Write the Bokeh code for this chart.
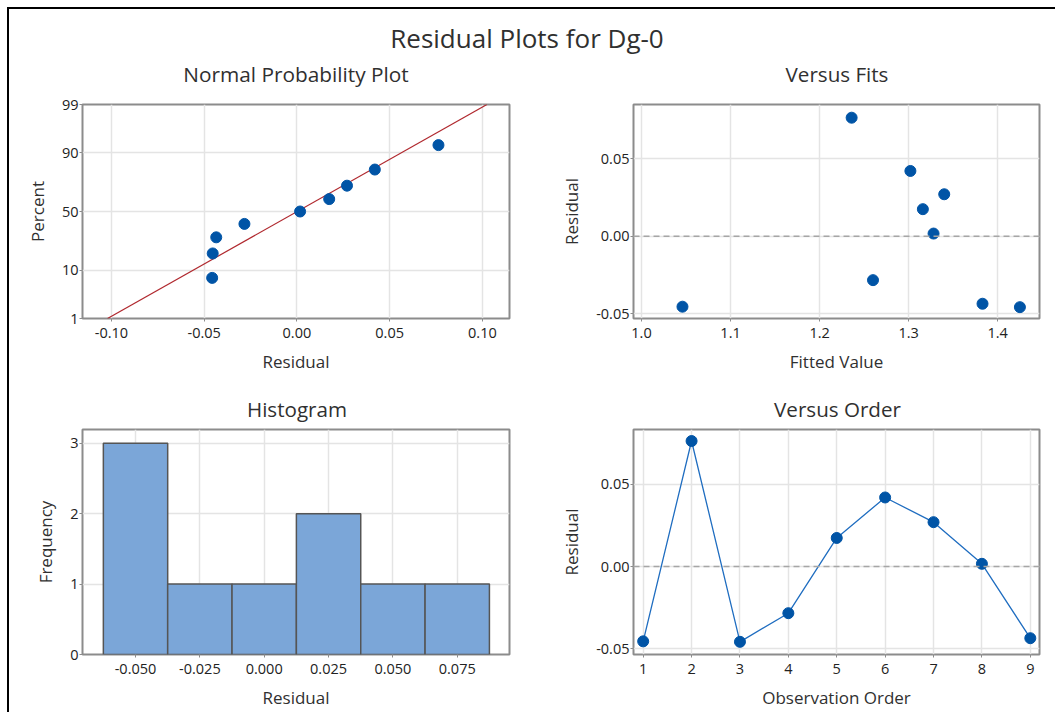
from statistics import NormalDist
import numpy as np
from bokeh.plotting import figure
from bokeh.layouts import column, row
from bokeh.models import FixedTicker, Span, Range1d, NumeralTickFormatter
from bokeh.embed import file_html
from bokeh.resources import INLINE
from bokeh.core.properties import value

# ---------------- data ----------------
main_title = "Residual Plots for Dg-0"
panel_titles = ["Normal Probability Plot", "Versus Fits", "Histogram", "Versus Order"]
observation_order = [1, 2, 3, 4, 5, 6, 7, 8, 9]
residuals = [-0.0454, 0.0763, -0.0457, -0.0283, 0.0174, 0.0420, 0.0270, 0.0017, -0.0435]
fitted_values = [1.046, 1.236, 1.425, 1.260, 1.316, 1.302, 1.340, 1.328, 1.383]
hist_bin_centers = [-0.050, -0.025, 0.000, 0.025, 0.050, 0.075]
hist_bin_width = 0.025
hist_counts = [3, 1, 1, 2, 1, 1]
prob_tick_percents = [1, 10, 50, 90, 99]
resid_ticks_npp = [-0.10, -0.05, 0.00, 0.05, 0.10]
fit_ticks = [1.0, 1.1, 1.2, 1.3, 1.4]
resid_ticks = [-0.05, 0.00, 0.05]
freq_ticks = [0, 1, 2, 3]

FONT = "Open Sans"
TXT = "#303030"
FRAME = "#8C8C8C"
GRID = "#E4E4E4"
MARK = "#0054A6"
W_LEFT, W_RIGHT = 520, 526
X0 = 9  # page x of content start

nd = NormalDist()


def style(p, xlabel, ylabel):
    p.outline_line_color = FRAME
    p.outline_line_width = 2
    p.background_fill_color = "white"
    p.border_fill_color = "white"
    for ax, lab in ((p.xaxis[0], xlabel), (p.yaxis[0], ylabel)):
        ax.axis_label = lab
        ax.axis_label_text_font = FONT
        ax.axis_label_text_font_size = "17px"
        ax.axis_label_text_font_style = "normal"
        ax.axis_label_text_color = TXT
        ax.major_label_text_font = FONT
        ax.major_label_text_font_size = "14.5px"
        ax.major_label_text_color = "#222222"
        ax.axis_line_color = None
        ax.major_tick_line_color = FRAME
        ax.major_tick_line_width = 1
        ax.major_tick_out = 3
        ax.major_tick_in = 0
        ax.minor_tick_line_color = None
    p.xaxis[0].major_label_standoff = 6
    p.xaxis[0].axis_label_standoff = 9
    p.yaxis[0].major_label_standoff = 1
    p.yaxis[0].axis_label_standoff = 10
    p.grid.grid_line_color = GRID
    p.grid.grid_line_width = 1.5


def text_strip(y_top, height, texts, xs, ys, sizes):
    # a strip figure whose coordinates equal page pixels (y downward)
    f = figure(width=W_LEFT + W_RIGHT, height=height,
               x_range=Range1d(X0, X0 + W_LEFT + W_RIGHT),
               y_range=Range1d(y_top + height, y_top),
               x_axis_type=None, y_axis_type=None, toolbar_location=None,
               output_backend="svg", min_border=0)
    f.outline_line_color = None
    f.grid.visible = False
    for t, x, y, s in zip(texts, xs, ys, sizes):
        f.text(x=[x], y=[y], text=[t], text_font=value(FONT), text_font_size=s,
               text_color=TXT, text_align="center", text_baseline="middle")
    return f


# ---------------- title strips ----------------
top_strip = text_strip(9, 85, [main_title, panel_titles[0], panel_titles[1]],
                       [526.5, 295.5, 836.5], [37.5, 73.5, 73.5],
                       ["26px", "20.8px", "20.6px"])
mid_strip = text_strip(384, 40, [panel_titles[2], panel_titles[3]],
                       [296.5, 837], [408.3, 408.3], ["20.6px", "20.6px"])

# ---------------- normal probability plot ----------------
zt = [round(nd.inv_cdf(q / 100), 6) for q in prob_tick_percents]
zmin, zmax = zt[0], zt[-1]
p1 = figure(width=W_LEFT, height=290,
            x_range=Range1d(-0.1156, 0.1146), y_range=Range1d(zmin, zmax),
            toolbar_location=None, output_backend="svg",
            min_border_left=73, min_border_right=20, min_border_top=10, min_border_bottom=66)
style(p1, "Residual", "Percent")
n = len(residuals)
sorted_res = sorted(residuals)
pp_z = [nd.inv_cdf((i + 1 - 0.3) / (n + 0.4)) for i in range(n)]
mu = float(np.mean(residuals))
sd = float(np.std(residuals, ddof=1))
p1.line(x=[mu + sd * zmin, mu + sd * zmax], y=[zmin, zmax], line_color="#B0282E", line_width=1.2)
p1.scatter(x=sorted_res, y=pp_z, size=11, color=MARK)
p1.yaxis[0].ticker = FixedTicker(ticks=zt)
p1.yaxis[0].major_label_overrides = {z: str(q) for z, q in zip(zt, prob_tick_percents)}
p1.ygrid[0].ticker = FixedTicker(ticks=zt)
p1.xaxis[0].ticker = FixedTicker(ticks=resid_ticks_npp)
p1.xaxis[0].formatter = NumeralTickFormatter(format="0.00")

# ---------------- versus fits ----------------
p2 = figure(width=W_RIGHT, height=290,
            x_range=Range1d(0.991, 1.447), y_range=Range1d(-0.053, 0.0848),
            toolbar_location=None, output_backend="svg",
            min_border_left=104, min_border_right=16, min_border_top=9, min_border_bottom=66)
style(p2, "Fitted Value", "Residual")
p2.add_layout(Span(location=0, dimension="width", line_color="#A6A6A6",
                   line_dash="6 4", line_width=1.5))
p2.scatter(x=fitted_values, y=residuals, size=11, color=MARK)
p2.xaxis[0].ticker = FixedTicker(ticks=fit_ticks)
p2.xaxis[0].formatter = NumeralTickFormatter(format="0.0")
p2.yaxis[0].ticker = FixedTicker(ticks=resid_ticks)
p2.yaxis[0].formatter = NumeralTickFormatter(format="0.00")

# ---------------- histogram ----------------
p3 = figure(width=W_LEFT, height=288,
            x_range=Range1d(-0.0706, 0.0953), y_range=Range1d(0, 3.195),
            toolbar_location=None, output_backend="svg",
            min_border_left=73, min_border_right=20, min_border_top=5, min_border_bottom=58)
style(p3, "Residual", "Frequency")
centers = np.array(hist_bin_centers)
p3.quad(left=centers - hist_bin_width / 2, right=centers + hist_bin_width / 2,
        top=hist_counts, bottom=0, fill_color="#7BA6D8", line_color="#555555", line_width=1.5)
p3.xaxis[0].ticker = FixedTicker(ticks=hist_bin_centers)
p3.xaxis[0].formatter = NumeralTickFormatter(format="0.000")
p3.yaxis[0].ticker = FixedTicker(ticks=freq_ticks)

# ---------------- versus order ----------------
p4 = figure(width=W_RIGHT, height=288,
            x_range=Range1d(0.8, 9.19), y_range=Range1d(-0.0534, 0.0833),
            toolbar_location=None, output_backend="svg",
            min_border_left=104, min_border_right=16, min_border_top=5, min_border_bottom=57)
style(p4, "Observation Order", "Residual")
p4.add_layout(Span(location=0, dimension="width", line_color="#A6A6A6",
                   line_dash="6 4", line_width=1.5))
p4.line(x=observation_order, y=residuals, line_color="#1F6DC0", line_width=1.3)
p4.scatter(x=observation_order, y=residuals, size=11, color=MARK)
p4.xaxis[0].ticker = FixedTicker(ticks=observation_order)
p4.yaxis[0].ticker = FixedTicker(ticks=resid_ticks)
p4.yaxis[0].formatter = NumeralTickFormatter(format="0.00")

layout = column(top_strip, row(p1, p2), mid_strip, row(p3, p4),
                styles={"border-left": "2px solid black", "border-top": "2px solid black",
                        "margin-left": "7px", "margin-top": "7px"})

open("out.html", "w").write(file_html(layout, INLINE))
